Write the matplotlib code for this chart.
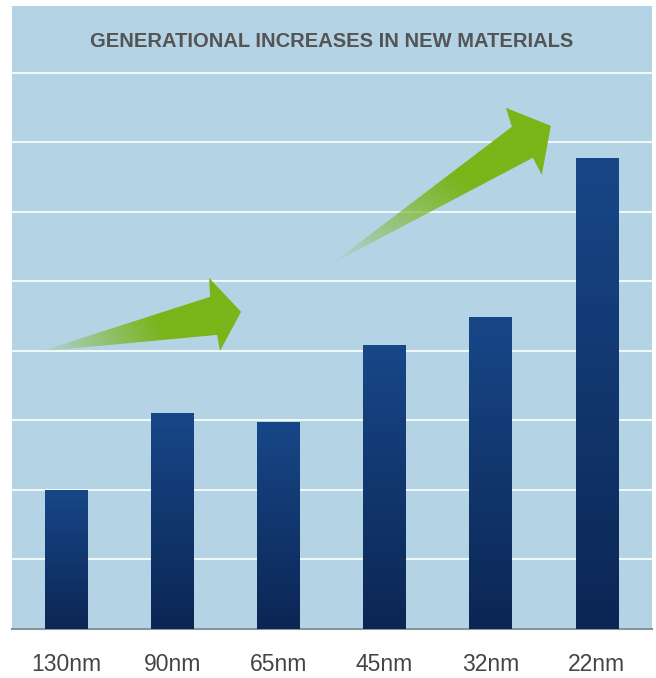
import numpy as np
import matplotlib.pyplot as plt
from matplotlib.patches import Polygon
from matplotlib.colors import to_rgb

nodes = ["130nm", "90nm", "65nm", "45nm", "32nm", "22nm"]
materials = [2.0, 3.1, 2.98, 4.09, 4.49, 6.78]
title = "GENERATIONAL INCREASES IN NEW MATERIALS"

# decorative arrows (data coords): tail, shaft top, barb top, tip, barb bottom, shaft bottom
arrow_small = [(-0.25, 3.99), (1.356, 4.777), (1.347, 5.05), (1.648, 4.561), (1.45, 4.0), (1.422, 4.23)]
arrow_big = [(2.50, 5.25), (4.20, 7.223), (4.143, 7.496), (4.567, 7.237), (4.482, 6.532), (4.397, 6.777)]

bg = "#b4d4e6"
bar_top = to_rgb("#184788")
bar_bot = to_rgb("#0b2654")
green = to_rgb("#7ab51a")

fig = plt.figure(figsize=(6.56, 6.78), dpi=100)
ax = fig.add_axes([12/656, 1 - 629/678, 640/656, 623/678])
ax.set_facecolor(bg)
ax.set_xlim(-0.51, 5.52)
ax.set_ylim(0, 8.96)

ax.set_yticks(range(1, 9))
ax.yaxis.grid(True, color="white", linewidth=1.2)
ax.set_axisbelow(True)
ax.tick_params(axis="y", left=False, labelleft=False)
ax.tick_params(axis="x", length=0, pad=17, labelsize=16.5, labelcolor="#454545")
for s in ["top", "left", "right"]:
    ax.spines[s].set_visible(False)
ax.spines["bottom"].set_color("#8a949a")
ax.spines["bottom"].set_linewidth(1.5)

x = np.arange(len(nodes))
bars = ax.bar(x, materials, width=0.4, color=bar_bot, zorder=2)
ax.set_xticks(x, nodes, fontfamily="Liberation Sans")

# vertical gradient in each bar
grad = np.linspace(0, 1, 256)
for b in bars:
    x0, w, h = b.get_x(), b.get_width(), b.get_height()
    img = np.zeros((256, 1, 3))
    for c in range(3):
        img[:, 0, c] = bar_bot[c] + (bar_top[c] - bar_bot[c]) * grad
    im = ax.imshow(img, extent=[x0, x0 + w, 0, h], origin="lower", aspect="auto", zorder=3)
    im.set_clip_path(b)

# green arrows fading towards their tails
for pts in [arrow_small, arrow_big]:
    pts = np.array(pts)
    poly = Polygon(pts, closed=True, facecolor="none", edgecolor="none", zorder=4)
    ax.add_patch(poly)
    xmin, ymin = pts.min(axis=0)
    xmax, ymax = pts.max(axis=0)
    gx, gy = np.meshgrid(np.linspace(xmin, xmax, 300), np.linspace(ymin, ymax, 300))
    tail, tip = pts[0], pts[3]
    d = tip - tail
    t = ((gx - tail[0]) * d[0] + (gy - tail[1]) * d[1]) / (d @ d)
    alpha = np.clip(t / 0.6, 0, 1) ** 0.9
    img = np.zeros((300, 300, 4))
    img[..., :3] = green
    img[..., 3] = alpha
    im = ax.imshow(img, extent=[xmin, xmax, ymin, ymax], origin="lower", aspect="auto", zorder=5)
    im.set_clip_path(poly)

ax.text(0.5, 8.45, title, ha="center", va="center", transform=ax.get_yaxis_transform(),
        fontsize=14.5, fontweight="bold", color="#545454", fontfamily="Liberation Sans")

ax.set_xlim(-0.51, 5.52)
ax.set_ylim(0, 8.96)
fig.savefig("out.png", dpi=100, facecolor="white")
